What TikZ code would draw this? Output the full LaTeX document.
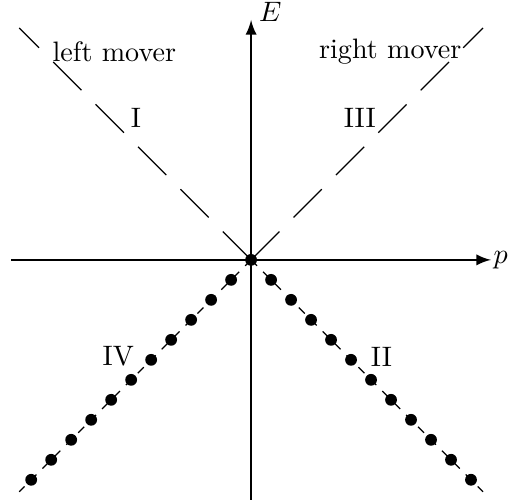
\documentclass[tikz,border=0pt]{standalone}
\usepackage{amsmath}
\usepackage{tikz}
\usetikzlibrary{arrows}
\usetikzlibrary{calc}

\begin{document}
\begin{tikzpicture}[axis/.style={thick,-latex},longdash/.style={dash pattern=on 5mm off 2.5mm},dot/.style={circle,fill=black,inner sep=0pt,minimum size=4.2pt}]
          \useasboundingbox (-3.14,-3.025) rectangle (3.225,3.25);
          \coordinate (O) at (0,0);
          \coordinate (pmin) at (-3,0);
          \coordinate (pmax) at (3,0);
          \coordinate (Emin) at (0,-3);
          \coordinate (Emax) at (0,3);
          \coordinate (ul) at (-2.9,2.9);
          \coordinate (ur) at (2.9,2.9);
          \coordinate (ll) at (-2.9,-2.9);
          \coordinate (lr) at (2.9,-2.9);
          % axes
          \draw[axis] (pmin) -- (pmax);
          \draw[axis] (Emin) -- (Emax);
          \node (p) at (3.12,0) {$p$};
          \node (E) at (0.24,3.1) {$E$};
          % movers
          \draw[longdash] (O) -- (ul);
          \draw[longdash] (O) -- (ur);
          \draw[dashed] (O) -- (ll);
          \draw[dashed] (O) -- (lr);
          \node[dot] (d0) at (O) {};
          \foreach \k in {1,...,11}
          {
            \node[dot] (l\k) at ($(O)!\k*0.25/2.9!(ll)$) {};
            \node[dot] (r\k) at ($(O)!\k*0.25/2.9!(lr)$) {};
          }
          \node (left) at (-1.71,2.6) {left mover};
          \node (right) at (1.74,2.6) {right mover};
          \node (I) at (-1.44,1.78) {I};
          \node (III) at (1.36,1.78) {III};
          \node (IV) at (-1.66,-1.21) {IV};
          \node (II) at (1.63,-1.21) {II};
        \end{tikzpicture}
\end{document}
